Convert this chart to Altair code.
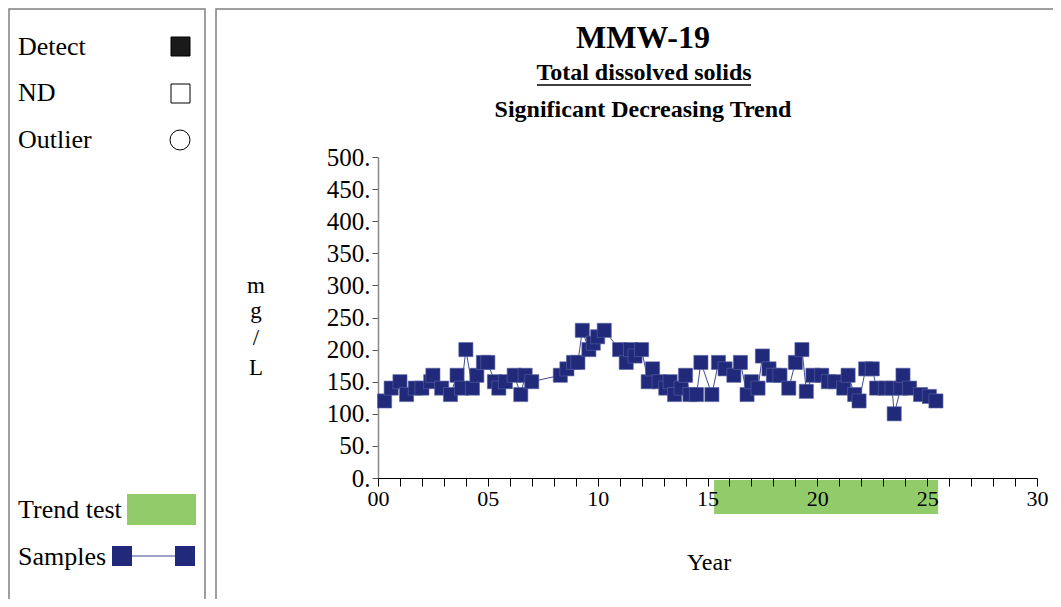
import altair as alt
import pandas as pd

# ---- data ----
years = [0.3, 0.6, 1.0, 1.3, 1.7, 2.0, 2.4, 2.5, 2.9, 3.3, 3.6, 3.8, 4.0, 4.3, 4.5, 4.8,
         5.0, 5.3, 5.5, 5.8, 6.2, 6.5, 6.7, 7.0, 8.3, 8.6, 8.9, 9.1, 9.3, 9.6, 9.8, 10.0,
         10.3, 11.0, 11.3, 11.5, 11.7, 12.0, 12.3, 12.5, 12.8, 13.1, 13.3, 13.5, 13.8, 14.0,
         14.2, 14.5, 14.7, 15.2, 15.5, 15.8, 16.2, 16.5, 16.8, 17.0, 17.3, 17.5, 17.8, 18.0,
         18.3, 18.7, 19.0, 19.3, 19.5, 19.8, 20.2, 20.5, 20.8, 21.2, 21.4, 21.7, 21.9, 22.2,
         22.5, 22.7, 23.1, 23.4, 23.5, 23.8, 23.9, 24.2, 24.7, 25.1, 25.4]
values = [120, 140, 150, 130, 140, 140, 150, 160, 140, 130, 160, 140, 200, 140, 160, 180,
          180, 150, 140, 150, 160, 130, 160, 150, 160, 170, 180, 180, 230, 200, 210, 220,
          230, 200, 180, 200, 190, 200, 150, 170, 150, 140, 150, 130, 140, 160,
          130, 130, 180, 130, 180, 170, 160, 180, 130, 150, 140, 190, 170, 160,
          160, 140, 180, 200, 135, 160, 160, 150, 150, 140, 160, 130, 120, 170,
          170, 140, 140, 140, 100, 140, 160, 140, 130, 127, 120]
trend_start = [15.3]
trend_end = [25.5]
x_ticks = list(range(0, 31))
y_ticks = list(range(0, 501, 50))

chart_title = "MMW-19"
subtitle1 = "Total dissolved solids"
subtitle2 = "Significant Decreasing Trend"
y_title_letters = ["m", "g", "/", "L"]
x_title = "Year"

NAVY = "#212a7a"
LINE = "#3f4a92"
GREEN = "#92cc6a"
FONT = "Liberation Serif"

W, H = 659, 321

df = pd.DataFrame({"year": years, "value": values})
trend_df = pd.DataFrame({"start": trend_start, "end": trend_end})

x_scale = alt.Scale(domain=[0, 30], nice=False, zero=False)
x_axis = alt.Axis(values=x_ticks, title=None, grid=False,
                  labelExpr="datum.value % 5 == 0 ? format(datum.value, '02d') : ''",
                  labelOverlap=False, labelFlush=False, labelBound=False,
                  labelFont=FONT, labelFontSize=22, labelColor="black",
                  labelPadding=2, tickSize=8, tickColor="black",
                  domainColor="black", domainWidth=1, zindex=1)
y_scale = alt.Scale(domain=[0, 500], nice=False)
y_axis = alt.Axis(values=y_ticks, title=None, grid=False,
                  labelExpr="datum.value + '.'", labelOverlap=False,
                  labelFont=FONT, labelFontSize=25, labelColor="black",
                  labelPadding=2, tickSize=6, tickColor="#555555",
                  domainColor="#888888", domainWidth=1.5)

xenc = alt.X("year:Q", scale=x_scale, axis=x_axis)
yenc = alt.Y("value:Q", scale=y_scale, axis=y_axis)

line = alt.Chart(df).mark_line(color=LINE, strokeWidth=1).encode(x=xenc, y=yenc)
pts = alt.Chart(df).mark_square(size=200, color=NAVY, opacity=1,
                                stroke="#5b64a6", strokeWidth=0.6).encode(x=xenc, y=yenc)
trend = alt.Chart(trend_df).mark_rect(color=GREEN).encode(
    x=alt.X("start:Q", scale=x_scale, axis=x_axis),
    x2="end:Q",
    y=alt.value(H + 2), y2=alt.value(H + 36))

one = pd.DataFrame({"a": [0]})


def txt(s, x, y, size=26, bold=False, align="left", baseline="middle"):
    return alt.Chart(one).mark_text(text=s, font=FONT, fontSize=size,
                                    fontWeight="bold" if bold else "normal",
                                    align=align, baseline=baseline, color="black").encode(
        x=alt.value(x), y=alt.value(y))


def box(x, x2, y, y2, fill="transparent", stroke="#808080", sw=1.5):
    return alt.Chart(one).mark_rect(fill=fill, stroke=stroke, strokeWidth=sw).encode(
        x=alt.value(x), x2=alt.value(x2), y=alt.value(y), y2=alt.value(y2))


def seg(x, x2, y, color, sw=1):
    return alt.Chart(one).mark_rule(color=color, strokeWidth=sw).encode(
        x=alt.value(x), x2=alt.value(x2), y=alt.value(y))


deco = [
    box(-369, -173, -148, 470),
    box(-162, 720, -148, 470),
    txt(chart_title, 265, -119, size=32, bold=True, align="center"),
    txt(subtitle1, 266, -84, size=24, bold=True, align="center"),
    seg(159, 373, -72, "black", 1.5),
    txt(subtitle2, 265, -47, size=24, bold=True, align="center"),
    txt(y_title_letters[0], -122, 136, size=23, align="center", baseline="alphabetic"),
    txt(y_title_letters[1], -122, 161, size=23, align="center", baseline="alphabetic"),
    txt(y_title_letters[2], -122, 188, size=23, align="center", baseline="alphabetic"),
    txt(y_title_letters[3], -122, 218, size=23, align="center", baseline="alphabetic"),
    txt(x_title, 331, 406, size=24, align="center"),
    # legend panel
    txt("Detect", -360, -110),
    box(-207, -188, -120, -101, fill="#1a1a1a", stroke="black", sw=1),
    txt("ND", -360, -64),
    box(-207, -188, -73, -54, fill="white", stroke="black", sw=1),
    txt("Outlier", -360, -17),
    alt.Chart(one).mark_point(shape="circle", size=400, filled=False, color="black",
                              strokeWidth=1, opacity=1).encode(
        x=alt.value(-198), y=alt.value(-17)),
    txt("Trend test", -360, 353),
    box(-251, -182, 337, 368, fill=GREEN, stroke=GREEN, sw=0),
    txt("Samples", -360, 400),
    seg(-246, -203, 399, "#7b83b8", 1.5),
    box(-266, -246, 389, 409, fill=NAVY, stroke=NAVY, sw=0),
    box(-203, -183, 389, 409, fill=NAVY, stroke=NAVY, sw=0),
]

chart = alt.layer(trend, line, pts, *deco).properties(
    width=W, height=H,
    autosize=alt.AutoSizeParams(type="none"),
    padding={"left": 370, "top": 149, "right": 16, "bottom": 121},
    background="white",
).configure_view(stroke=None)

chart.save("out.html", embed_options={"renderer": "svg", "actions": False})
